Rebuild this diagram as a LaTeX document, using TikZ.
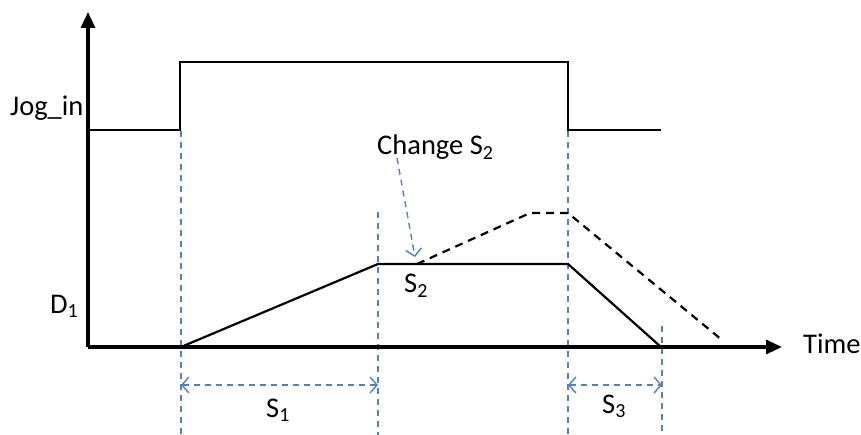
\documentclass[tikz,border=0pt]{standalone}
\usepackage{fontspec}
\setmainfont{Carlito}
\usetikzlibrary{arrows.meta}
\definecolor{dimblue}{HTML}{4F81BD}
\tikzset{
  axisline/.style={line width=3.2pt, -{Triangle[length=16pt,width=14pt]}},
  sigline/.style={line width=2.2pt},
  dashsig/.style={line width=2.2pt, dash pattern=on 8pt off 6pt},
  guide/.style={dimblue, line width=1.4pt, dash pattern=on 6pt off 5pt},
  dimarrow/.style={guide, {Straight Barb[length=7pt,width=16pt,line width=1.4pt]}-{Straight Barb[length=7pt,width=16pt,line width=1.4pt]}},
  callout/.style={guide, -{Straight Barb[length=7pt,width=16pt,line width=1.4pt]}},
  lbl/.style={font=\fontsize{28.5}{32}\selectfont, inner sep=0pt, anchor=base west}
}
\begin{document}
\begin{tikzpicture}[x=1pt,y=-1pt]
\useasboundingbox (0,0) rectangle (861,435);
% coordinates
\coordinate (O) at (88,347);
\coordinate (ytip) at (88,12);
\coordinate (xtip) at (782,347);
\coordinate (j0) at (88,130);
\coordinate (j1) at (180,130);
\coordinate (j2) at (180,62);
\coordinate (j3) at (568,62);
\coordinate (j4) at (568,130);
\coordinate (j5) at (661,130);
\coordinate (d0) at (181,347);
\coordinate (d1) at (378,264);
\coordinate (d2) at (568,264);
\coordinate (d3) at (661,347);
\coordinate (e0) at (417,264);
\coordinate (e1) at (530,213);
\coordinate (e2) at (568,213);
\coordinate (e3) at (722,340);
% guides
\coordinate (g1t) at (181,131);
\coordinate (g1b) at (181,435);
\coordinate (g2t) at (378,212);
\coordinate (g2b) at (378,435);
\coordinate (g3t) at (568,131);
\coordinate (g3b) at (568,435);
\coordinate (g4t) at (662,326);
\coordinate (g4b) at (662,435);
\draw[guide] (g1t) -- (g1b);
\draw[guide] (g2t) -- (g2b);
\draw[guide] (g3t) -- (g3b);
\draw[guide] (g4t) -- (g4b);
\coordinate (s1a) at (181,385);
\coordinate (s1b) at (378,385);
\coordinate (s3a) at (568,385);
\coordinate (s3b) at (662,385);
\draw[dimarrow] (s1a) -- (s1b);
\draw[dimarrow] (s3a) -- (s3b);
\coordinate (ca) at (397,158);
\coordinate (cb) at (415,257);
\draw[callout] (ca) -- (cb);
% signals
\draw[sigline] (j0) -- (j1) -- (j2) -- (j3) -- (j4) -- (j5);
\draw[sigline] (d0) -- (d1) -- (d2) -- (d3);
\draw[dashsig] (e0) -- (e1) -- (e2) -- (e3);
% axes
\draw[axisline] (O) -- (ytip);
\draw[axisline] (O) -- (xtip);
% labels
\node[lbl] (jog) at (10,116) {Jog\_in};
\node[lbl] (d1lbl) at (50,313) {D\textsubscript{1}};
\node[lbl] (s2lbl) at (404,293) {S\textsubscript{2}};
\node[lbl] (chg) at (377,155) {Change S\textsubscript{2}};
\node[lbl] (s1lbl) at (266,417) {S\textsubscript{1}};
\node[lbl] (s3lbl) at (602,413) {S\textsubscript{3}};
\node[lbl] (time) at (803,353) {Time};
\end{tikzpicture}
\end{document}
